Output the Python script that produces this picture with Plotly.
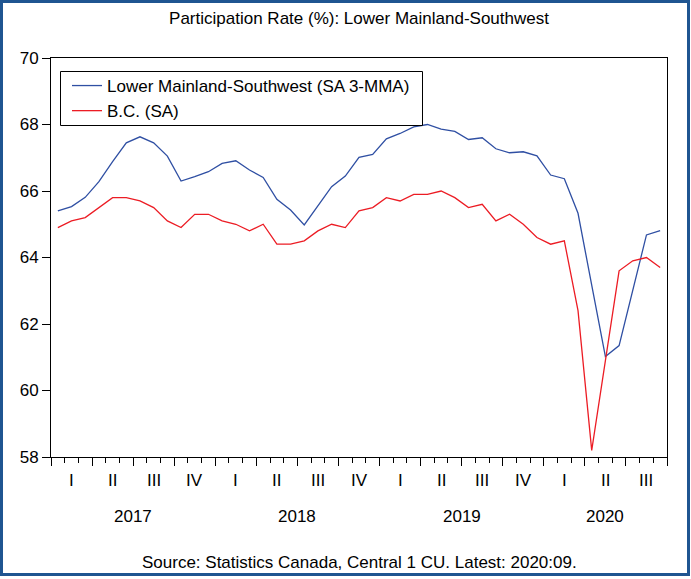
import plotly.graph_objects as go

# ---- data (monthly, Jan 2017 .. Sep 2020) ----
years = ["2017", "2018", "2019", "2020"]
quarter_labels = ["I", "II", "III", "IV"]
lmsw = [65.40, 65.53, 65.81, 66.28, 66.88, 67.45, 67.63, 67.45, 67.05, 66.30, 66.43, 66.58,
        66.83, 66.91, 66.63, 66.41, 65.75, 65.43, 64.98, 65.56, 66.13, 66.45, 67.01, 67.10,
        67.57, 67.73, 67.93, 68.00, 67.86, 67.79, 67.55, 67.60, 67.27, 67.15, 67.18, 67.06,
        66.48, 66.37, 65.33, 63.17, 61.02, 61.35, 63.01, 64.68, 64.81]
bc = [64.9, 65.1, 65.2, 65.5, 65.8, 65.8, 65.7, 65.5, 65.1, 64.9, 65.3, 65.3,
      65.1, 65.0, 64.8, 65.0, 64.4, 64.4, 64.5, 64.8, 65.0, 64.9, 65.4, 65.5,
      65.8, 65.7, 65.9, 65.9, 66.0, 65.8, 65.5, 65.6, 65.1, 65.3, 65.0, 64.6,
      64.4, 64.5, 62.4, 58.2, 60.9, 63.6, 63.9, 64.0, 63.7]
series_names = ["Lower Mainland-Southwest (SA 3-MMA)", "B.C. (SA)"]
title_text = "Participation Rate (%): Lower Mainland-Southwest"
source_text = "Source: Statistics Canada, Central 1 CU. Latest: 2020:09."

n = len(lmsw)
x = [i + 0.5 for i in range(n)]

FONT = "Liberation Sans, Arial, sans-serif"
W, H = 691, 579
L, R, T, B = 51, 24, 58, 122
pw, ph = W - L - R, H - T - B


def px2x(p):
    return (p - L) / pw


def py2y(p):
    return (T + ph - p) / ph


fig = go.Figure()
fig.add_trace(go.Scatter(x=x, y=lmsw, mode="lines", name=series_names[0],
                         line=dict(color="#2f4fa3", width=1.3)))
fig.add_trace(go.Scatter(x=x, y=bc, mode="lines", name=series_names[1],
                         line=dict(color="#ec1c24", width=1.3)))

annotations = []
nq = (n + 2) // 3
for q in range(nq):
    annotations.append(dict(x=q * 3 + 1.5, y=py2y(480), xref="x", yref="paper",
                            text=quarter_labels[q % 4], showarrow=False,
                            font=dict(size=17, color="black", family=FONT),
                            yanchor="middle"))
for yi, yr in enumerate(years):
    start = yi * 12
    end = min(n, start + 12)
    annotations.append(dict(x=(start + end) / 2, y=py2y(516), xref="x", yref="paper",
                            text=yr, showarrow=False,
                            font=dict(size=17, color="black", family=FONT),
                            yanchor="middle"))
annotations.append(dict(x=0.5, y=py2y(562), xref="paper", yref="paper",
                        text=source_text, showarrow=False,
                        font=dict(size=17, color="black", family=FONT), yanchor="middle"))

shapes = [
    # legend box
    dict(type="rect", xref="paper", yref="paper",
         x0=px2x(60.5), x1=px2x(422.5), y0=py2y(125.5), y1=py2y(71.5),
         line=dict(color="black", width=1), fillcolor="white", layer="above"),
    # outer frame
    dict(type="rect", xref="paper", yref="paper",
         x0=px2x(1.5), x1=px2x(688.5), y0=py2y(574.5), y1=py2y(1.5),
         line=dict(color="#1f5591", width=3), fillcolor="rgba(0,0,0,0)", layer="above"),
]

fig.update_layout(
    width=W, height=H,
    margin=dict(l=L, r=R, t=T, b=B),
    paper_bgcolor="white", plot_bgcolor="white",
    font=dict(family=FONT, size=17, color="black"),
    title=dict(text=title_text, x=0.5, xref="paper", y=1 - 18 / H, yref="container",
               yanchor="middle", xanchor="center", font=dict(size=17, color="black")),
    showlegend=True,
    legend=dict(x=px2x(67), y=py2y(68), xanchor="left", yanchor="top",
                bgcolor="rgba(0,0,0,0)", borderwidth=0,
                font=dict(size=17, color="black"), itemwidth=30, tracegroupgap=0),
    xaxis=dict(range=[0, n], showgrid=False, zeroline=False,
               showline=True, linecolor="black", linewidth=1, mirror=True,
               tickmode="array", tickvals=[3 * q for q in range(nq + 1)],
               showticklabels=False, ticks="outside", ticklen=8, tickcolor="black", tickwidth=1,
               minor=dict(ticks="outside", ticklen=5, tickcolor="black", tickwidth=1,
                          tickmode="linear", tick0=0, dtick=1, showgrid=False)),
    yaxis=dict(range=[58, 70], dtick=2, tick0=58, showgrid=False, zeroline=False,
               showline=True, linecolor="black", linewidth=1, mirror=True,
               ticks="outside", ticklen=8, tickcolor="black", tickwidth=1,
               tickfont=dict(size=17, color="black")),
    annotations=annotations,
    shapes=shapes,
)

fig.write_html("out.html", config={"displayModeBar": False},
               post_script="document.body.style.margin='0';document.body.style.overflow='hidden';")
